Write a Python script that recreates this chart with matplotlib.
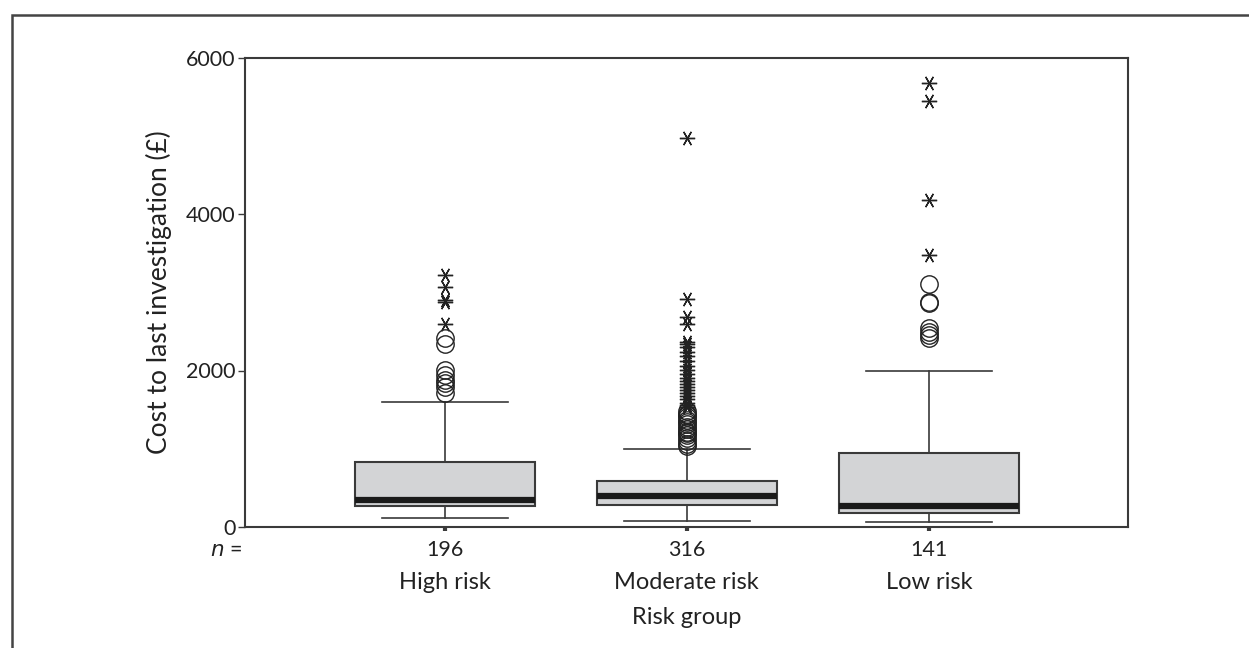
import matplotlib
matplotlib.use("Agg")
import matplotlib.pyplot as plt
from matplotlib.patches import Rectangle
import matplotlib.transforms as mtransforms

plt.rcParams['font.family'] = ['Lato', 'DejaVu Sans']

# ---- data ----
groups = ["High risk", "Moderate risk", "Low risk"]
n_labels = ["196", "316", "141"]
q1 = [262, 285, 178]
median = [350, 400, 272]
q3 = [835, 590, 950]
whisker_low = [110, 76, 70]
whisker_high = [1600, 1000, 2000]

# mild outliers (circles)
outliers_high = [2420, 2340, 2010, 1940, 1880, 1840, 1790, 1710]
outliers_mod = [1480, 1450, 1430, 1400, 1370, 1340, 1310, 1280, 1250, 1220,
                1200, 1170, 1140, 1100, 1060, 1040]
outliers_low = [3110, 2880, 2860, 2540, 2490, 2450, 2420]
# extreme values (asterisks)
extremes_high = [3220, 3070, 2900, 2870, 2590]
extremes_mod = [4970, 2920, 2680, 2600, 2370, 2340, 2300, 2240, 2180, 2120,
                2060, 2010, 1960, 1910, 1870, 1830, 1790, 1750, 1710, 1670,
                1630, 1590, 1560, 1530]
extremes_low = [5680, 5440, 4180, 3480]

yticks = [0, 2000, 4000, 6000]
ylabel = "Cost to last investigation (£)"
xlabel = "Risk group"

# ---- figure ----
W, H = 1249, 648
fig = plt.figure(figsize=(W / 100, H / 100), dpi=100)
ax = fig.add_axes([245 / W, (H - 527) / H, 883 / W, 469.5 / H])

positions = [1, 2, 3]
stats = []
for i in range(3):
    stats.append(dict(med=median[i], q1=q1[i], q3=q3[i],
                      whislo=whisker_low[i], whishi=whisker_high[i],
                      fliers=[], label=groups[i]))

edge = "#3a3a3a"
txt = "#222222"
ax.bxp(stats, positions=positions, widths=0.744, capwidths=0.52,
       showfliers=False, patch_artist=True,
       boxprops=dict(facecolor="#d3d4d6", edgecolor=edge, linewidth=1.5),
       medianprops=dict(color="#1a1a1a", linewidth=4.5, solid_capstyle="butt"),
       whiskerprops=dict(color=edge, linewidth=1.2),
       capprops=dict(color=edge, linewidth=1.2))

circ = [outliers_high, outliers_mod, outliers_low]
ext = [extremes_high, extremes_mod, extremes_low]
for p, c, e in zip(positions, circ, ext):
    ax.plot([p] * len(c), c, linestyle="none", marker="o", markersize=12.5,
            markerfacecolor="none", markeredgecolor="#222222", markeredgewidth=1.0)
    ax.plot([p] * len(e), e, linestyle="none", marker=(6, 2, 90), markersize=11,
            markeredgecolor="#222222", markeredgewidth=1.0)

ax.set_xlim(0.174, 3.823)
ax.set_ylim(0, 6000)
ax.set_yticks(yticks)
ax.set_yticklabels([str(v) for v in yticks], fontsize=15.5, color=txt)
ax.set_xticks(positions)
ax.set_xticklabels([])
ax.tick_params(axis="y", direction="out", length=5, width=1.0, color=edge, pad=2)
ax.tick_params(axis="x", direction="out", length=3, width=3, color=edge)
for s in ax.spines.values():
    s.set_linewidth(1.5)
    s.set_color(edge)

ax.set_ylabel(ylabel, fontsize=19, color=txt)
ax.yaxis.set_label_coords(-0.083, 0.5)

fs = 17
trans = mtransforms.blended_transform_factory(ax.transData, ax.transAxes)
for p, nl, g in zip(positions, n_labels, groups):
    ax.text(p, -0.049, nl, transform=trans, ha="center", va="center",
            fontsize=15.5, color=txt)
    ax.text(p, -0.119, g, transform=trans, ha="center", va="center",
            fontsize=fs, color=txt)
ax.text(-0.021, -0.049, "$n$ =", transform=ax.transAxes, ha="center", va="center",
        fontsize=15.5, color=txt)
ax.text(2, -0.192, xlabel, transform=trans, ha="center", va="center",
        fontsize=fs, color=txt)

# outer frame (only top and left visible in the reference)
fig.patches.append(Rectangle((12 / W, -0.1), 1.2, (H - 15) / H + 0.1,
                             transform=fig.transFigure, fill=False,
                             edgecolor="#444444", linewidth=1.8))

fig.savefig("out.png", dpi=100)
